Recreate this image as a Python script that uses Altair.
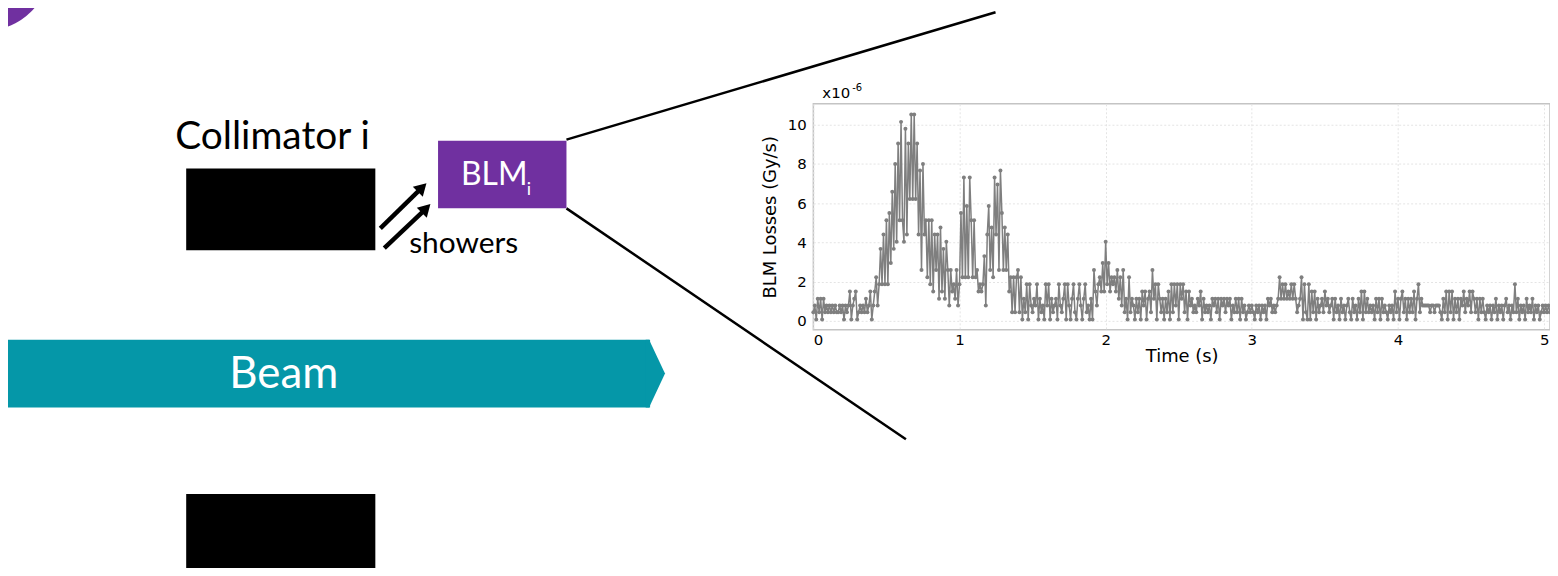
import altair as alt
import pandas as pd

# ---------------- data (BLM losses, units of 1e-6 Gy/s, one sample every 0.01 s) ----------------
loss_values = [
    0.44, 0.78, 0.07, 1.12, 0.44, 1.12, 0.07, 1.12, 0.44, 0.78,
    0.44, 0.78, 0.44, 0.78, 0.44, 0.78, 0.44, 0.44, 0.78, 0.44,
    0.78, 0.07, 0.78, 0.44, 0.78, 1.49, 0.07, 0.78, 1.12, 1.49,
    0.07, 0.44, 0.78, 0.44, 0.78, 0.44, 1.12, 0.44, 0.78, 1.49,
    0.07, 0.78, 1.49, 2.22, 0.78, 1.86, 3.67, 1.86, 4.40, 1.86,
    5.13, 1.86, 5.50, 2.95, 6.58, 3.67, 8.00, 4.03, 9.05, 5.13,
    10.15, 5.13, 4.03, 9.80, 4.40, 9.05, 6.22, 10.52, 6.22, 10.52,
    6.22, 9.05, 4.40, 7.67, 2.59, 8.00, 4.40, 5.13, 2.22, 5.13,
    1.86, 5.13, 1.49, 4.40, 2.59, 4.40, 1.12, 4.76, 1.49, 3.67,
    1.12, 4.03, 2.59, 0.78, 2.59, 1.49, 1.86, 1.12, 2.59, 0.78,
    1.86, 5.50, 2.22, 7.31, 2.22, 5.86, 2.22, 7.31, 5.13, 2.22,
    5.13, 2.22, 2.59, 1.49, 1.86, 1.49, 1.86, 3.30, 0.78, 4.40,
    5.86, 2.59, 4.76, 2.22, 7.31, 4.40, 6.95, 2.59, 7.67, 5.50,
    2.59, 4.76, 2.59, 4.40, 1.49, 2.22, 0.44, 2.22, 0.44, 2.22,
    2.59, 0.44, 2.22, 0.07, 1.12, 0.44, 1.86, 0.07, 1.86, 0.78,
    0.44, 1.12, 0.78, 1.86, 0.07, 1.12, 0.44, 0.78, 0.07, 1.86,
    0.78, 1.86, 0.07, 1.12, 0.44, 0.78, 1.12, 0.07, 1.86, 0.78,
    0.44, 1.12, 1.86, 0.07, 1.86, 0.78, 0.07, 1.12, 1.86, 0.44,
    0.07, 1.12, 1.86, 0.78, 0.07, 1.12, 1.86, 0.44, 0.78, 0.07,
    1.12, 0.07, 2.59, 1.49, 0.78, 1.86, 2.22, 1.49, 2.95, 1.49,
    4.03, 1.86, 2.95, 1.49, 2.22, 1.86, 2.22, 1.49, 2.59, 1.12,
    2.22, 0.78, 2.59, 0.44, 1.12, 0.07, 2.22, 0.44, 1.12, 0.78,
    0.07, 1.12, 0.44, 1.12, 0.07, 1.49, 0.78, 1.49, 0.07, 1.12,
    1.49, 0.44, 2.59, 1.12, 1.86, 0.07, 1.86, 1.12, 0.44, 1.12,
    0.07, 1.12, 0.44, 1.49, 0.07, 1.86, 0.44, 1.86, 0.78, 1.86,
    0.07, 1.86, 1.12, 1.86, 0.44, 1.49, 0.07, 1.49, 0.78, 1.12,
    0.44, 0.78, 0.44, 1.12, 0.78, 1.49, 0.07, 1.12, 0.44, 0.78,
    0.44, 0.78, 0.07, 1.12, 0.78, 1.12, 0.44, 1.12, 0.07, 1.12,
    0.78, 1.12, 0.44, 1.12, 0.78, 1.12, 0.07, 0.78, 0.44, 1.12,
    0.44, 1.12, 0.07, 1.12, 0.44, 0.78, 0.07, 0.44, 0.78, 0.44,
    0.78, 0.44, 0.07, 0.78, 0.44, 0.78, 0.07, 0.78, 0.44, 0.78,
    0.07, 1.12, 0.78, 1.12, 0.44, 0.78, 0.44, 0.78, 1.12, 2.22,
    1.12, 1.86, 1.12, 1.86, 1.12, 1.49, 1.12, 1.86, 1.12, 1.86,
    1.12, 0.44, 0.78, 1.12, 2.22, 0.07, 1.86, 0.44, 0.07, 1.86,
    0.07, 1.49, 0.44, 1.49, 0.07, 1.12, 0.44, 0.78, 1.12, 0.44,
    1.49, 0.78, 1.12, 0.44, 0.78, 1.12, 0.07, 1.12, 0.44, 0.78,
    0.07, 1.12, 0.44, 0.78, 0.07, 0.78, 1.12, 0.44, 0.07, 1.12,
    0.44, 0.78, 0.07, 1.12, 0.44, 1.49, 0.07, 1.49, 0.44, 1.12,
    0.44, 0.78, 0.44, 0.78, 0.07, 1.12, 0.44, 1.12, 0.07, 1.12,
    0.44, 0.78, 0.44, 0.07, 0.78, 0.44, 0.78, 0.07, 1.49, 0.44,
    1.12, 0.07, 1.12, 1.49, 0.44, 1.12, 0.07, 1.12, 0.44, 1.12,
    0.44, 1.49, 0.07, 1.12, 1.86, 0.44, 1.12, 0.78, 0.78, 0.78,
    0.78, 0.78, 0.44, 0.78, 0.78, 0.44, 0.78, 0.78, 0.78, 0.44,
    0.07, 1.12, 0.44, 1.49, 0.07, 1.49, 0.44, 1.49, 0.07, 1.12,
    0.44, 1.12, 0.07, 1.12, 0.78, 1.49, 0.44, 1.12, 0.78, 1.49,
    0.44, 1.49, 1.12, 0.44, 1.12, 0.07, 1.12, 0.44, 1.12, 0.44,
    0.07, 0.78, 0.44, 0.78, 0.07, 0.78, 0.44, 1.12, 0.07, 0.78,
    0.44, 0.78, 0.07, 0.78, 1.12, 0.44, 0.78, 0.07, 0.78, 0.44,
    1.86, 0.44, 1.12, 0.07, 0.78, 0.44, 0.78, 0.07, 1.12, 0.44,
    0.78, 0.44, 1.12, 0.07, 0.78, 0.44, 0.78, 0.07, 0.44, 0.78,
    0.44, 0.78, 0.44, 0.78, 0.44,
]
sample_step_s = 0.01
time_s = [round(i * sample_step_s, 2) for i in range(len(loss_values))]

x_ticks = [0, 1, 2, 3, 4, 5]
y_ticks = [0, 2, 4, 6, 8, 10]
x_domain = [0, 5.04]
y_domain = [-0.46, 11.07]

x_title = "Time (s)"
y_title = "BLM Losses (Gy/s)"

# ---------------- layout (page pixels) ----------------
OX, OY = 817, 103          # top-left of plot area on the page
PW, PH = 740, 227          # plot area size


def px(x):
    return x - OX


def py(y):
    return y - OY


PURPLE = "#7030A0"
TEAL = "#0597A8"
GRAY = "#7f7f7f"
one = pd.DataFrame({"k": [0]})

# ---------------- data chart ----------------
df = pd.DataFrame({"t": time_s, "v": loss_values})
base = alt.Chart(df).encode(
    x=alt.X(
        "t:Q",
        scale=alt.Scale(domain=x_domain, nice=False, zero=False),
        axis=alt.Axis(
            values=x_ticks, title=x_title, format="d", grid=True,
            gridColor="#e4e4e4", gridDash=[2, 2], domain=False, ticks=False,
            labelFont="DejaVu Sans", labelFontSize=15, labelColor="black",
            labelPadding=3, titleFont="DejaVu Sans", titleFontSize=18,
            titleFontWeight="normal", titleColor="black", titlePadding=0,
        ),
    ),
    y=alt.Y(
        "v:Q",
        scale=alt.Scale(domain=y_domain, nice=False, zero=False),
        axis=alt.Axis(
            values=y_ticks, title=y_title, format="d", grid=True,
            gridColor="#e4e4e4", gridDash=[2, 2], domain=False, ticks=False,
            labelFont="DejaVu Sans", labelFontSize=15, labelColor="black",
            labelPadding=7, titleFont="DejaVu Sans", titleFontSize=18,
            titleFontWeight="normal", titleColor="black", titlePadding=8,
        ),
    ),
)
line = base.mark_line(color=GRAY, strokeWidth=1.5)
pts = base.mark_point(filled=True, color=GRAY, size=16, opacity=1)

exp_main = alt.Chart(one).mark_text(
    text="x10", font="DejaVu Sans", fontSize=15, align="left", baseline="alphabetic", color="black"
).encode(x=alt.value(px(826)), y=alt.value(py(97)))
exp_sup = alt.Chart(one).mark_text(
    text="-6", font="DejaVu Sans", fontSize=10, align="left", baseline="alphabetic", color="black"
).encode(x=alt.value(px(856)), y=alt.value(py(90)))

# ---------------- diagram ----------------
corner = alt.Chart(one).mark_point(filled=True, shape="circle", color=PURPLE, size=15376, opacity=1).encode(
    x=alt.value(px(-13)), y=alt.value(py(-33)))

collim_label = alt.Chart(one).mark_text(
    text="Collimator i", font="Lato", fontSize=39, align="left", baseline="alphabetic", color="black"
).encode(x=alt.value(px(176)), y=alt.value(py(148)))

jaw_top = alt.Chart(one).mark_rect(color="black").encode(
    x=alt.value(px(187)), x2=alt.value(px(377)), y=alt.value(py(168)), y2=alt.value(py(250)))
jaw_bottom = alt.Chart(one).mark_rect(color="black").encode(
    x=alt.value(px(187)), x2=alt.value(px(377)), y=alt.value(py(495)), y2=alt.value(py(590)))

arrow1 = alt.Chart(one).mark_rule(color="black", strokeWidth=4.5).encode(
    x=alt.value(px(382)), y=alt.value(py(228)), x2=alt.value(px(420)), y2=alt.value(py(191)))
arrow2 = alt.Chart(one).mark_rule(color="black", strokeWidth=4.5).encode(
    x=alt.value(px(386)), y=alt.value(py(248)), x2=alt.value(px(424)), y2=alt.value(py(212)))
head1 = alt.Chart(one).mark_point(filled=True, shape="triangle-up", color="black", size=200, angle=45, opacity=1).encode(
    x=alt.value(px(424)), y=alt.value(py(187)))
head2 = alt.Chart(one).mark_point(filled=True, shape="triangle-up", color="black", size=200, angle=45, opacity=1).encode(
    x=alt.value(px(428)), y=alt.value(py(208)))

showers = alt.Chart(one).mark_text(
    text="showers", font="Lato", fontSize=30, align="left", baseline="alphabetic", color="black"
).encode(x=alt.value(px(411)), y=alt.value(py(253)))

blm_box = alt.Chart(one).mark_rect(color=PURPLE).encode(
    x=alt.value(px(440)), x2=alt.value(px(569)), y=alt.value(py(140)), y2=alt.value(py(208)))
blm_text = alt.Chart(one).mark_text(
    text="BLM", font="Lato", fontSize=32, align="left", baseline="alphabetic", color="white"
).encode(x=alt.value(px(463)), y=alt.value(py(185)))
blm_sub = alt.Chart(one).mark_text(
    text="i", font="Lato", fontSize=18, align="left", baseline="alphabetic", color="white"
).encode(x=alt.value(px(529)), y=alt.value(py(195)))

zoom_top = alt.Chart(one).mark_rule(color="black", strokeWidth=2.5).encode(
    x=alt.value(px(569)), y=alt.value(py(139)), x2=alt.value(px(1000)), y2=alt.value(py(11)))
zoom_bottom = alt.Chart(one).mark_rule(color="black", strokeWidth=2.5).encode(
    x=alt.value(px(569)), y=alt.value(py(208)), x2=alt.value(px(910)), y2=alt.value(py(440)))

beam_body = alt.Chart(one).mark_rect(color=TEAL).encode(
    x=alt.value(px(7)), x2=alt.value(px(653)), y=alt.value(py(340)), y2=alt.value(py(408)))
beam_tip = alt.Chart(one).mark_point(
    filled=True, color=TEAL, opacity=1, size=4624,
    shape="M-0.1,-1 L0,-1 L0.47,0 L0,1 L-0.1,1 Z",
).encode(x=alt.value(px(652)), y=alt.value(py(374)))
beam_text = alt.Chart(one).mark_text(
    text="Beam", font="Lato", fontSize=44, align="center", baseline="middle", color="white"
).encode(x=alt.value(px(285)), y=alt.value(py(375)))

chart = alt.layer(
    corner, zoom_top, zoom_bottom, collim_label, jaw_top, jaw_bottom,
    arrow1, arrow2, head1, head2, showers, blm_box, blm_text, blm_sub,
    beam_body, beam_tip, beam_text,
    line, pts, exp_main, exp_sup,
).properties(
    width=PW, height=PH,
    autosize=alt.AutoSizeParams(type="none"),
    padding={"left": OX - 8, "top": OY - 8, "right": 0, "bottom": 560 - (OY - 8) - PH},
    background="white",
).configure_view(stroke="#c4c4c4", strokeWidth=1.5)

chart.save("out.html", embed_options={"renderer": "svg", "actions": False})
